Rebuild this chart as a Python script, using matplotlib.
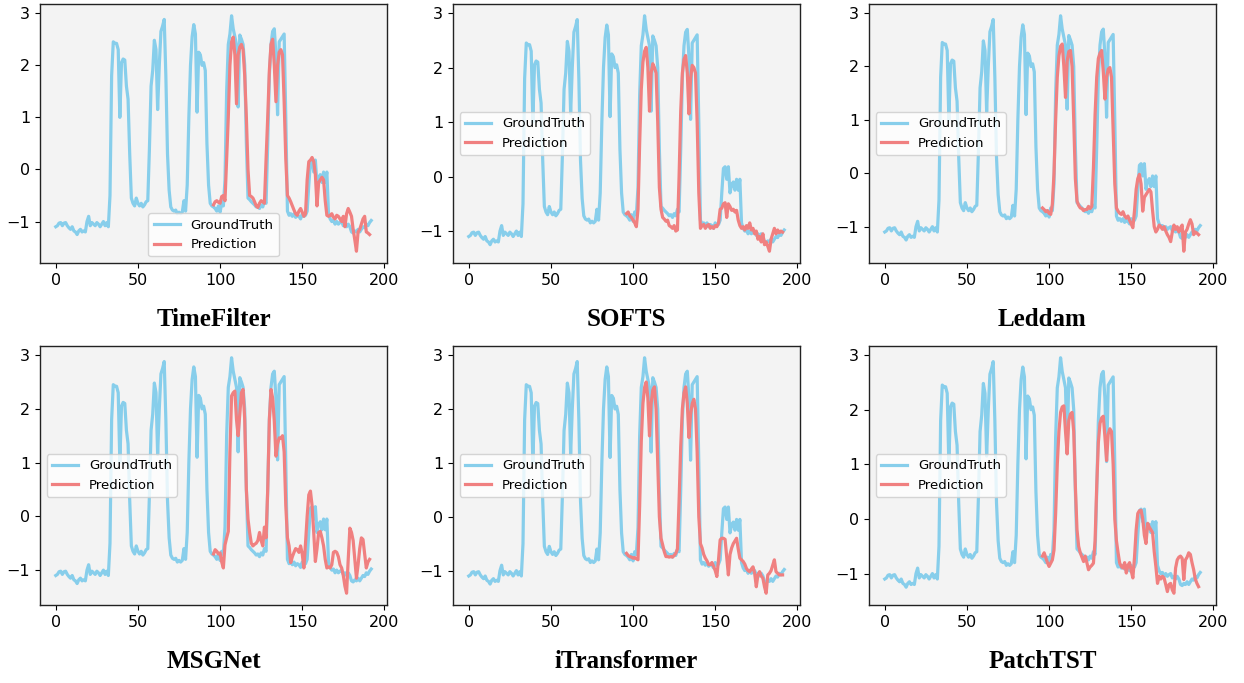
import matplotlib
matplotlib.use("Agg")
import matplotlib.pyplot as plt
import numpy as np

# ground truth series, 192 steps (96 look-back + 96 horizon)
ground_truth = [
    -1.10, -1.08, -1.03, -1.02, -1.08, -1.03, -1.02, -1.08, -1.12, -1.15,
    -1.10, -1.18, -1.20, -1.25, -1.18, -1.15, -1.20, -1.18, -1.20, -1.00,
    -0.90, -1.08, -1.02, -1.05, -1.08, -1.02, -1.05, -1.10, -1.05, -1.00,
    -1.08, -1.02, -1.10, -0.50, 1.80, 2.45, 2.42, 2.42, 2.30, 1.00,
    2.05, 2.12, 2.10, 1.60, 1.35, 0.30, -0.55, -0.65, -0.70, -0.55,
    -0.65, -0.70, -0.65, -0.72, -0.68, -0.62, -0.60, 0.40, 1.60, 1.90,
    2.48, 2.30, 1.15, 2.00, 2.65, 2.75, 2.88, 1.80, 0.30, -0.40,
    -0.72, -0.78, -0.80, -0.78, -0.85, -0.82, -0.85, -0.82, -0.60, -0.80,
    -0.30, 1.00, 2.00, 2.55, 2.78, 2.60, 1.10, 2.25, 2.20, 2.00,
    2.05, 1.90, 0.50, -0.30, -0.65, -0.70,
    -0.72, -0.75, -0.80, -0.70, -0.82, -0.65, -0.70, -0.20, 1.50, 2.40,
    2.60, 2.95, 2.70, 2.55, 2.40, 1.20, 2.58, 2.50, 2.40, 2.00,
    0.50, -0.55, -0.58, -0.62, -0.65, -0.68, -0.72, -0.70, -0.75, -0.68,
    -0.72, -0.60, -0.65, 0.50, 1.80, 2.40, 2.65, 2.70, 2.20, 1.05,
    2.45, 2.50, 2.55, 2.60, 1.00, -0.80, -0.88, -0.85, -0.90, -0.85,
    -0.92, -0.88, -0.90, -0.95, -0.85, -0.90, -0.88, -0.80, -0.30, 0.15,
    0.18, -0.05, 0.18, -0.30, -0.15, -0.10, -0.25, -0.05, -0.25, -0.05,
    -0.85, -0.95, -1.00, -0.98, -1.05, -1.00, -1.05, -1.02, -1.00, -1.08,
    -1.05, -1.10, -1.05, -1.10, -1.20, -1.22, -1.18, -1.20, -1.15, -1.20,
    -1.15, -1.10, -1.12, -1.05, -1.08, -1.02, -0.98,
]

# model forecasts over the horizon (steps 96..191)
pred_timefilter = [
    -0.68, -0.62, -0.60, -0.63, -0.65, -0.52, -0.50, -0.60, 0.20, 1.00,
    2.00, 2.45, 2.54, 2.20, 1.26, 2.20, 2.35, 2.40, 2.30, 1.80,
    1.00, 0.00, -0.50, -0.52, -0.55, -0.62, -0.70, -0.73, -0.65, -0.60,
    -0.62, -0.65, 0.20, 1.00, 1.90, 2.40, 2.50, 2.00, 1.30, 2.00,
    2.25, 2.30, 2.20, 1.30, 0.20, -0.50, -0.55, -0.62, -0.70, -0.78,
    -0.85, -0.88, -0.80, -0.75, -0.82, -0.90, -0.85, -0.20, 0.15, 0.18,
    0.23, 0.15, -0.10, -0.70, -0.25, -0.20, -0.15, -0.20, -0.60, -0.88,
    -0.90, -0.88, -0.85, -0.92, -0.95, -0.88, -0.90, -0.95, -1.00, -0.90,
    -1.10, -0.85, -0.75, -0.82, -0.90, -1.15, -1.35, -1.57, -1.20, -1.15,
    -1.05, -0.95, -0.90, -1.20, -1.22, -1.25,
]

pred_softs = [
    -0.68, -0.65, -0.72, -0.75, -0.80, -0.85, -0.92, -0.60, 0.60, 1.60,
    2.10, 2.30, 2.37, 2.00, 1.20, 1.90, 2.07, 2.00, 1.90, 1.00,
    -0.20, -0.60, -0.75, -0.78, -0.82, -0.80, -0.90, -0.92, -0.95, -0.90,
    -1.00, -0.98, 0.00, 1.20, 1.90, 2.15, 2.22, 1.90, 1.15, 1.80,
    2.04, 2.00, 1.90, 1.00, -0.30, -0.95, -0.90, -0.88, -0.95, -0.90,
    -0.88, -0.95, -0.92, -0.95, -0.90, -0.92, -0.85, -0.60, -0.58, -0.50,
    -0.48, -0.75, -0.50, -0.55, -0.62, -0.60, -0.65, -0.62, -0.80, -0.90,
    -0.95, -0.92, -0.98, -0.90, -0.95, -0.85, -0.98, -0.95, -1.05, -1.00,
    -1.15, -1.10, -1.20, -1.05, -1.25, -1.20, -1.28, -1.37, -1.15, -1.05,
    -0.95, -1.05, -0.98, -1.03, -1.00, -1.02,
]

pred_leddam = [
    -0.65, -0.68, -0.72, -0.70, -0.75, -0.77, -0.58, 0.00, 1.00, 1.80,
    2.20, 2.38, 2.42, 2.00, 1.42, 2.10, 2.28, 2.30, 2.00, 1.00,
    -0.10, -0.52, -0.60, -0.65, -0.66, -0.70, -0.68, -0.68, -0.62, -0.66,
    -0.62, 0.10, 1.10, 1.80, 2.15, 2.25, 2.30, 1.90, 1.39, 1.80,
    1.95, 1.98, 1.80, 0.80, -0.20, -0.65, -0.71, -0.75, -0.77, -0.72,
    -0.80, -0.84, -0.80, -0.88, -0.95, -1.02, -0.70, -0.30, -0.10, -0.02,
    -0.20, -0.71, -0.45, -0.40, -0.35, -0.30, -0.35, -0.70, -1.00, -1.10,
    -1.05, -0.97, -1.00, -1.05, -1.00, -1.08, -1.15, -1.20, -1.28, -1.10,
    -0.97, -1.05, -1.00, -1.10, -1.02, -0.97, -1.46, -1.10, -1.05, -0.95,
    -0.87, -0.95, -1.15, -1.10, -1.12, -1.15,
]

pred_msgnet = [
    -0.70, -0.62, -0.65, -0.70, -0.68, -0.85, -0.96, -0.53, -0.40, -0.28,
    1.20, 2.24, 2.30, 2.33, 1.80, 1.50, 1.90, 2.30, 2.36, 1.80,
    0.50, -0.05, -0.30, -0.50, -0.55, -0.52, -0.50, -0.45, -0.30, -0.45,
    -0.55, -0.20, -0.40, 0.50, 1.80, 2.36, 2.20, 1.77, 1.12, 1.35,
    1.46, 1.45, 1.50, 1.20, 0.20, -0.40, -0.55, -0.86, -0.75, -0.67,
    -0.60, -0.62, -0.67, -0.55, -0.70, -0.96, -0.50, 0.00, 0.40, 0.47,
    0.20, -0.30, -0.84, -0.60, -0.30, -0.28, -0.40, -0.55, -0.80, -0.96,
    -0.94, -0.96, -0.90, -0.67, -0.65, -0.67, -0.75, -0.90, -0.96, -1.10,
    -1.30, -1.43, -0.80, -0.22, -0.30, -0.45, -0.80, -1.15, -0.90, -0.60,
    -0.40, -0.43, -0.70, -0.96, -0.85, -0.80,
]

pred_itransformer = [
    -0.68, -0.72, -0.74, -0.75, -0.77, -0.76, -0.78, -0.80, 0.20, 1.40,
    2.10, 2.40, 2.50, 2.20, 1.50, 2.10, 2.35, 2.41, 2.00, 1.00,
    0.00, -0.40, -0.52, -0.65, -0.74, -0.74, -0.75, -0.74, -0.75, -0.72,
    -0.68, -0.60, 0.30, 1.30, 2.00, 2.30, 2.41, 2.10, 1.47, 1.90,
    2.10, 2.18, 2.00, 1.20, 0.00, -0.50, -0.58, -0.70, -0.77, -0.82,
    -0.89, -0.89, -0.85, -0.92, -1.00, -1.11, -0.80, -0.43, -0.40, -0.40,
    -0.42, -0.75, -1.08, -0.70, -0.58, -0.50, -0.45, -0.40, -0.60, -0.77,
    -0.80, -0.83, -0.88, -0.96, -1.00, -1.02, -0.97, -0.93, -1.05, -1.30,
    -1.08, -1.02, -1.10, -1.14, -1.30, -1.42, -1.08, -1.05, -1.00, -0.90,
    -0.80, -1.02, -1.05, -1.08, -1.08, -1.08,
]

pred_patchtst = [
    -0.68, -0.62, -0.71, -0.80, -0.87, -0.81, -0.75, -0.57, 0.10, 1.00,
    1.60, 1.95, 2.05, 2.07, 1.60, 1.19, 1.80, 1.92, 1.95, 1.60,
    0.60, -0.20, -0.50, -0.62, -0.70, -0.78, -0.68, -0.80, -0.93, -0.88,
    -0.85, -0.81, -0.40, 0.60, 1.40, 1.75, 1.85, 1.88, 1.50, 1.07,
    1.55, 1.65, 1.60, 1.00, 0.00, -0.40, -0.62, -0.81, -0.87, -0.90,
    -0.80, -0.99, -0.85, -0.80, -0.95, -1.08, -0.70, -0.20, 0.10, 0.15,
    0.16, 0.00, -0.30, -0.45, -0.08, -0.15, -0.20, -0.25, -0.60, -0.87,
    -1.18, -1.05, -1.10, -1.05, -1.08, -1.20, -1.33, -1.20, -1.18, -1.30,
    -1.36, -0.90, -0.75, -0.70, -0.68, -0.72, -1.11, -0.75, -0.70, -0.62,
    -0.65, -0.80, -0.93, -1.10, -1.18, -1.24,
]

models = ["TimeFilter", "SOFTS", "Leddam", "MSGNet", "iTransformer", "PatchTST"]
predictions = [pred_timefilter, pred_softs, pred_leddam,
               pred_msgnet, pred_itransformer, pred_patchtst]
legend_locs = ["lower center", "center left", "center left",
               "center left", "center left", "center left"]

gt_steps = np.arange(len(ground_truth))
pred_steps = np.arange(96, 96 + len(pred_timefilter))

fig = plt.figure(figsize=(12.44, 6.83), dpi=100)

# axes boxes in pixels
lefts = [40, 453, 869]
tops = [4, 346]
ax_w, ax_h = 347, 259
W, H = 1244, 683
title_y = [320, 662]

for i, name in enumerate(models):
    row, col = divmod(i, 3)
    l, t = lefts[col], tops[row]
    ax = fig.add_axes([l / W, 1 - (t + ax_h) / H, ax_w / W, ax_h / H])
    ax.set_facecolor("#f3f3f3")
    ax.plot(gt_steps, ground_truth, color="skyblue", lw=2.3, label="GroundTruth")
    ax.plot(pred_steps, predictions[i], color="lightcoral", lw=2.3, label="Prediction")
    ax.set_xticks([0, 50, 100, 150, 200])
    ax.set_yticks([-1, 0, 1, 2, 3])
    ax.tick_params(labelsize=11.5)
    for s in ax.spines.values():
        s.set_linewidth(1.0)
        s.set_color("#222222")
    ax.legend(loc=legend_locs[i], fontsize=9.5)
    fig.text((l + ax_w / 2) / W, 1 - title_y[row] / H, name,
             ha="center", va="center", fontsize=18, fontweight="bold",
             family="Liberation Serif")

fig.savefig("out.png", dpi=100)
